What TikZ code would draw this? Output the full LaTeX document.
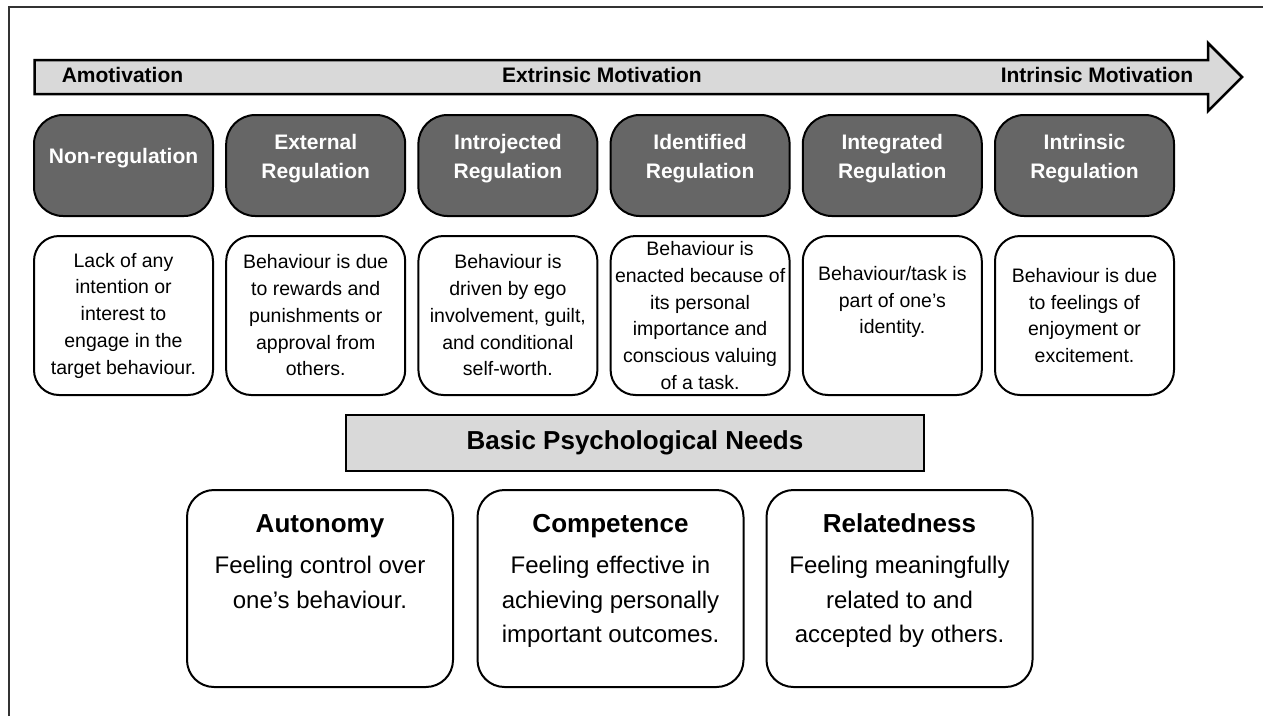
\documentclass[tikz,border=0pt]{standalone}
\usepackage{fontspec}
\setmainfont{Liberation Sans}
\definecolor{regdark}{HTML}{666666}
\definecolor{barlight}{HTML}{D9D9D9}

\newcommand{\hdrfont}{\bfseries\fontsize{21}{28.5}\selectfont}
\newcommand{\descfont}{\fontsize{19.5}{26.75}\selectfont}
\newcommand{\needfont}{\fontsize{24}{34.5}\selectfont}

\begin{document}
\begin{tikzpicture}[x=1pt, y=-1pt,
    regbox/.style={draw, line width=2pt, fill=regdark, rounded corners=29pt,
        minimum width=179pt, minimum height=101pt, inner sep=0pt},
    regtext/.style={font=\hdrfont, text=white, align=center, inner sep=0pt},
    descbox/.style={draw, line width=2pt, fill=white, rounded corners=25pt,
        minimum width=179pt, minimum height=159pt, inner sep=0pt,
        align=center, font=\descfont},
    bartext/.style={font=\hdrfont, anchor=base, inner sep=0pt},
    needbox/.style={draw, line width=2pt, rounded corners=27pt,
        minimum width=266pt, minimum height=197pt},
    needtitle/.style={font=\bfseries\fontsize{26}{30}\selectfont, anchor=base, inner sep=0pt},
    needtext/.style={font=\needfont, align=center, anchor=north, inner sep=0pt}]

    \useasboundingbox (0,0) rectangle (1263,716);

    % Frame
    \draw[line width=1.5pt, black!80] (9,716) -- (9,7) -- (1263,7);

    % Continuum arrow
    \draw[line width=2.5pt, fill=barlight, line join=miter]
        (34.5,60) -- (1208,60) -- (1208,43) -- (1242,77) -- (1208,111)
        -- (1208,94) -- (34.5,94) -- cycle;
    \node[bartext] (amot) at (122.5,82) {Amotivation};
    \node[bartext] (extr) at (602,82) {Extrinsic Motivation};
    \node[bartext] (intr) at (1097,82) {Intrinsic Motivation};

    % Regulation types
    \node[regbox] (nonreg) at (123.5,165.5) {};
    \node[regtext] (nonregtxt) at (123.5,158.5) {Non-regulation};
    \node[regbox] (extreg) at (315.7,165.5) {};
    \node[regtext] (extregtxt) at (315.7,158.5) {External\\Regulation};
    \node[regbox] (introreg) at (507.9,165.5) {};
    \node[regtext] (introregtxt) at (507.9,158.5) {Introjected\\Regulation};
    \node[regbox] (identreg) at (700.1,165.5) {};
    \node[regtext] (identregtxt) at (700.1,158.5) {Identified\\Regulation};
    \node[regbox] (integreg) at (892.3,165.5) {};
    \node[regtext] (integregtxt) at (892.3,158.5) {Integrated\\Regulation};
    \node[regbox] (intreg) at (1084.5,165.5) {};
    \node[regtext] (intregtxt) at (1084.5,158.5) {Intrinsic\\Regulation};

    % Descriptions
    \node[descbox] (nonregdesc) at (123.5,315.5)
        {Lack of any\\intention or\\interest to\\engage in the\\target behaviour.};
    \node[descbox] (extregdesc) at (315.7,315.5)
        {Behaviour is due\\to rewards and\\punishments or\\approval from\\others.};
    \node[descbox] (introregdesc) at (507.9,315.5)
        {Behaviour is\\driven by ego\\involvement, guilt,\\and conditional\\self-worth.};
    \node[descbox] (identregdesc) at (700.1,315.5)
        {Behaviour is\\enacted because of\\its personal\\importance and\\conscious valuing\\of a task.};
    \node[descbox] (integregdesc) at (892.3,315.5) {};
    \node[align=center, font=\descfont, inner sep=0pt] (integregtxt2) at (892.3,302)
        {Behaviour/task is\\part of one’s\\identity.};
    \node[descbox] (intregdesc) at (1084.5,315.5)
        {Behaviour is due\\to feelings of\\enjoyment or\\excitement.};

    % Basic needs
    \node[draw, line width=2pt, fill=barlight, minimum width=578pt, minimum height=56pt,
        font=\bfseries\fontsize{26}{30}\selectfont] (needs) at (635,443) {Basic Psychological Needs};

    \node[needbox] (auto) at (320,588.5) {};
    \node[needtitle] (autotitle) at (320,532) {Autonomy};
    \node[needtext] (autotxt) at (320,556) {Feeling control over\\one’s behaviour.};

    \node[needbox] (comp) at (610.5,588.5) {};
    \node[needtitle] (comptitle) at (610.5,532) {Competence};
    \node[needtext] (comptxt) at (610.5,556) {Feeling effective in\\achieving personally\\important outcomes.};

    \node[needbox] (rel) at (899.5,588.5) {};
    \node[needtitle] (reltitle) at (899.5,532) {Relatedness};
    \node[needtext] (reltxt) at (899.5,556) {Feeling meaningfully\\related to and\\accepted by others.};

\end{tikzpicture}
\end{document}
